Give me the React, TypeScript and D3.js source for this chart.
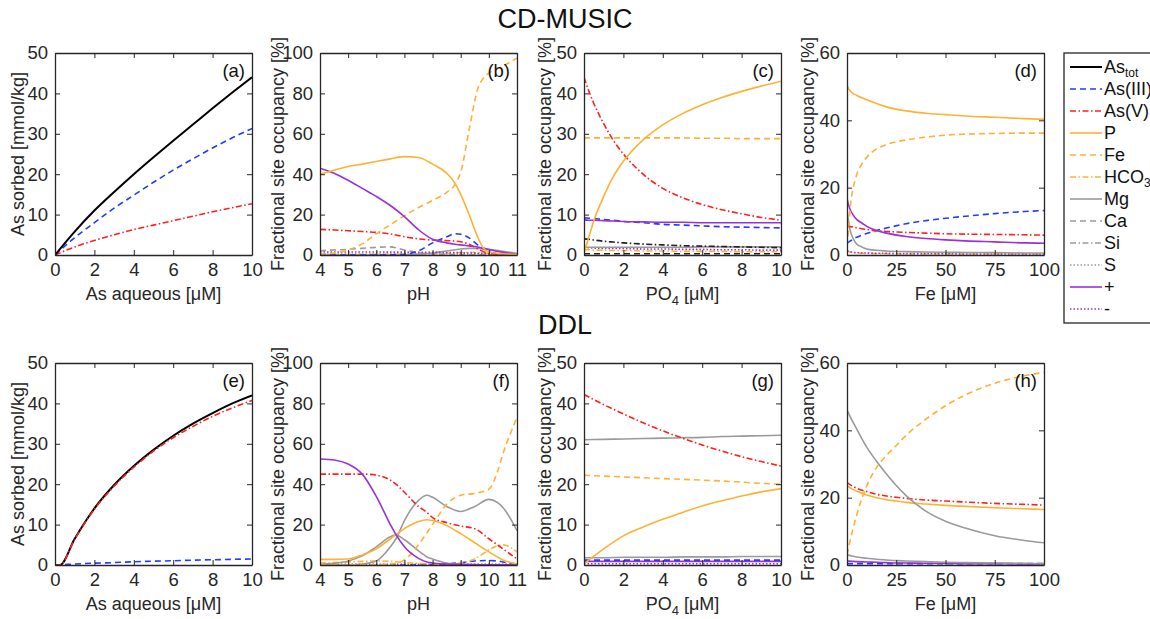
import { useEffect, useRef } from "react";
import * as d3 from "d3";

// ---- panel (a) / (e): As sorbed vs As aqueous
const aX = [0, 1, 2, 3, 4, 5, 6, 7, 8, 9, 10];
const aAsTot = [0, 5.8, 11, 15.6, 20, 24.2, 28.3, 32.3, 36.3, 40.2, 44];
const aAsIII = [0, 4.3, 8, 11.6, 14.8, 18, 21, 23.8, 26.5, 29, 31.3];
const aAsV = [0, 2, 3.6, 5, 6.3, 7.4, 8.5, 9.6, 10.7, 11.7, 12.7];

const eX = [0, 0.25, 1, 2, 3, 4, 5, 6, 7, 8, 9, 10];
const eAsTot = [0, 0, 6.5, 14, 19.8, 24.5, 28.5, 32, 35, 37.6, 40, 42];
const eAsV = [0, 0, 6.4, 13.8, 19.5, 24.2, 28.2, 31.5, 34.3, 36.8, 38.9, 40.7];
const eAsIII = [0, 0.05, 0.25, 0.45, 0.6, 0.8, 0.95, 1.05, 1.2, 1.3, 1.4, 1.5];

// ---- panel (b): CD-MUSIC vs pH
const bX = [4, 4.5, 5, 5.5, 6, 6.5, 7, 7.5, 8, 8.5, 8.8, 9, 9.3, 9.6, 9.8, 10, 10.5, 11];
const bP = [40, 42, 43.8, 45, 46.3, 47.6, 48.7, 48.3, 45, 40.5, 35.5, 30, 20, 9, 3.5, 1.5, 0.6, 0.3];
const bFe = [0.5, 1, 2.5, 5.5, 10.5, 15, 19.5, 23.5, 27, 31, 35, 41, 62, 82, 87.5, 90, 93.5, 97.5];
const bPlus = [43, 40.5, 37, 33, 29, 24.5, 19, 12.5, 7.8, 6, 5.3, 5, 4.5, 4, 3.4, 2.7, 1.3, 0.3];
const bAsV = [12.7, 12.4, 12, 11.6, 11.2, 10.4, 9, 8, 7.4, 7.1, 6.9, 6.6, 5.3, 3, 1.7, 0.8, 0.2, 0.1];
const bAsIII = [0, 0, 0, 0, 0, 0.1, 0.4, 2, 6, 9, 10.5, 10.3, 8.5, 5, 3, 1.6, 0.5, 0.2];
const bCa = [2.1, 2.5, 2.8, 3.3, 3.8, 4, 2.5, 1.2, 0.5, 0.3, 0.2, 0.2, 0.1, 0.1, 0.1, 0.1, 0.1, 0.1];
const bMg = [0, 0, 0, 0, 0, 0, 0.1, 0.4, 1, 2, 2.6, 3, 3.3, 3.3, 3.1, 2.8, 1.8, 0.8];
const bMinus = [1.5, 1.5, 1.5, 1.5, 1.5, 1.4, 1.4, 1.3, 1.3, 1.2, 1.2, 1.1, 1, 0.9, 0.8, 0.7, 0.5, 0.3];
const bHCO3 = [0.2, 0.2, 0.2, 0.3, 0.3, 0.3, 0.4, 0.5, 0.6, 0.8, 1, 1.2, 1.3, 1.2, 1, 0.8, 0.5, 0.3];
const bS = [0.5, 0.5, 0.5, 0.5, 0.5, 0.5, 0.5, 0.5, 0.5, 0.5, 0.5, 0.5, 0.4, 0.4, 0.4, 0.3, 0.3, 0.2];

// ---- panel (c): CD-MUSIC vs PO4
const cX = [0, 0.25, 0.5, 1, 1.5, 2, 3, 4, 5, 6, 7, 8, 9, 10];
const cAsV = [44, 40.5, 37.5, 32.5, 28.3, 25, 20, 16.5, 14.2, 12.5, 11.2, 10.2, 9.3, 8.6];
const cP = [0.5, 4.5, 8.5, 14.5, 19.5, 23.2, 28.5, 32.2, 35, 37.2, 39, 40.5, 41.8, 43];
const cFe = [29, 29, 29, 29, 29, 29, 29, 29, 29, 28.9, 28.9, 28.8, 28.8, 28.8];
const cPlus = [8.7, 8.6, 8.6, 8.5, 8.4, 8.3, 8.2, 8.1, 8.1, 8, 8, 8, 8, 8];
const cAsIII = [9.2, 9.1, 9, 8.8, 8.6, 8.3, 8, 7.6, 7.4, 7.2, 7, 6.9, 6.8, 6.7];
const cBlkDD = [4, 3.9, 3.7, 3.4, 3.2, 3, 2.7, 2.5, 2.3, 2.2, 2.1, 2, 1.9, 1.8];
const cMg = [1.9, 1.9, 1.9, 1.9, 1.9, 1.9, 1.9, 1.9, 1.9, 2, 2, 2, 2, 2];
const cMinus = [1.8, 1.8, 1.7, 1.7, 1.6, 1.6, 1.5, 1.5, 1.4, 1.4, 1.3, 1.3, 1.2, 1.2];
const cHCO3 = [1.3, 1.3, 1.2, 1.2, 1.1, 1.1, 1, 1, 0.9, 0.9, 0.9, 0.8, 0.8, 0.8];
const cBlkD = [0.3, 0.3, 0.3, 0.3, 0.3, 0.3, 0.3, 0.3, 0.3, 0.3, 0.3, 0.3, 0.3, 0.3];

// ---- panel (d): CD-MUSIC vs Fe
const dX = [0, 0.5, 1, 2, 3, 5, 7.5, 10, 15, 20, 30, 40, 50, 60, 75, 90, 100];
const dP = [50.5, 49.8, 49.2, 48.5, 48, 47.4, 46.7, 46.1, 45, 44, 42.8, 42.1, 41.7, 41.3, 40.9, 40.5, 40.3];
const dFe = [2.5, 6, 9.5, 16, 19.5, 24, 27, 29, 31.5, 32.8, 34.2, 35, 35.6, 35.9, 36.1, 36.2, 36.2];
const dPlus = [17, 15.5, 14.5, 13, 12, 10.5, 9.5, 8.5, 7.3, 6.5, 5.5, 4.9, 4.5, 4.2, 3.9, 3.6, 3.5];
const dAsV = [8.7, 8.6, 8.5, 8.4, 8.3, 8.1, 7.8, 7.6, 7.2, 7, 6.7, 6.5, 6.3, 6.2, 6.1, 6, 5.9];
const dAsIII = [3.5, 3.7, 3.9, 4.3, 4.7, 5.3, 5.9, 6.4, 7.3, 8, 9.3, 10.2, 10.9, 11.5, 12.3, 12.9, 13.2];
const dMg = [14, 11, 9, 6.5, 5, 3.2, 2.4, 1.8, 1.4, 1.2, 1, 0.9, 0.8, 0.75, 0.7, 0.6, 0.6];
const dMinus = [1, 1, 0.9, 0.9, 0.8, 0.7, 0.6, 0.6, 0.5, 0.5, 0.4, 0.4, 0.4, 0.3, 0.3, 0.3, 0.3];
const dHCO3 = [1.5, 1.2, 1, 0.8, 0.7, 0.6, 0.5, 0.5, 0.4, 0.4, 0.3, 0.3, 0.3, 0.3, 0.3, 0.3, 0.3];

// ---- panel (f): DDL vs pH
const fX = [4, 4.5, 5, 5.5, 6, 6.5, 6.7, 7, 7.5, 7.8, 8, 8.5, 9, 9.5, 10, 10.3, 10.5, 11];
const fPlus = [52.5, 52, 50, 45, 34, 20, 15, 9, 3.3, 1.5, 1, 0.5, 0.3, 0.2, 0.1, 0.1, 0.1, 0];
const fAsV = [45, 45, 45, 45, 44.5, 42, 40, 36, 29, 26, 23.5, 21, 19.3, 18, 13, 10, 8, 3];
const fMgA = [0.3, 0.8, 2, 4.5, 9, 14, 14.8, 12.5, 7, 4, 3, 1, 0.3, 0.1, 0, 0, 0, 0];
const fMgB = [0, 0, 0, 0.5, 2, 9, 13, 22, 32, 34.5, 33.5, 29, 26.5, 29, 32.5, 31, 28.5, 17];
const fP = [2.8, 2.8, 3, 5, 8, 13, 15, 18, 21.5, 22.4, 22, 19.5, 15.5, 11, 6.5, 4, 2.5, 0.5];
const fFe = [0, 0, 0, 0.1, 0.2, 0.5, 0.8, 2.5, 10, 16, 20, 30, 34.5, 35.5, 37.5, 46, 55, 73];
const fHCO3 = [1, 1.2, 1.5, 1.8, 2, 1.8, 1.6, 1.2, 0.8, 0.6, 0.5, 0.5, 1, 3, 7.5, 9.5, 10, 6.5];
const fAsIII = [0, 0, 0, 0, 0, 0, 0, 0, 0, 0.1, 0.2, 0.5, 1.2, 2, 2.2, 2, 1.5, 0.5];
const fMinus = [0.3, 0.3, 0.3, 0.3, 0.3, 0.3, 0.3, 0.3, 0.3, 0.3, 0.3, 0.3, 0.3, 0.3, 0.3, 0.3, 0.3, 0.3];

// ---- panel (g): DDL vs PO4
const gX = [0, 1, 2, 3, 4, 5, 6, 7, 8, 9, 10];
const gAsV = [42.2, 39.7, 37.4, 35.2, 33.2, 31.4, 29.7, 28.2, 26.8, 25.6, 24.5];
const gMg = [31, 31.1, 31.2, 31.3, 31.4, 31.5, 31.6, 31.8, 31.9, 32, 32.1];
const gFe = [22.2, 22, 21.8, 21.6, 21.4, 21.2, 21, 20.8, 20.5, 20.2, 20];
const gP = [0.3, 4, 7.2, 9.4, 11.3, 13, 14.6, 15.9, 17.1, 18.1, 18.9];
const gMg2 = [1.8, 1.8, 1.9, 1.9, 1.9, 2, 2, 2, 2.1, 2.1, 2.1];
const gAsIII = [1.2, 1.2, 1.2, 1.2, 1.2, 1.2, 1.2, 1.2, 1.2, 1.2, 1.2];
const gPlus = [0.9, 0.9, 0.9, 0.9, 0.9, 0.9, 0.9, 0.9, 0.9, 0.9, 0.9];
const gMinus = [0.3, 0.3, 0.3, 0.3, 0.3, 0.3, 0.3, 0.3, 0.3, 0.3, 0.3];

// ---- panel (h): DDL vs Fe
const hX = [0, 2.5, 5, 10, 15, 20, 25, 30, 40, 50, 60, 75, 90, 100];
const hFe = [3, 9.5, 15, 23.5, 29, 32.5, 35.5, 38.5, 43.3, 47.3, 50.5, 54, 56.2, 57.2];
const hMg = [46, 43, 40.3, 35, 30.8, 27, 23.6, 20.6, 16, 13, 11, 8.7, 7.3, 6.6];
const hAsV = [24.5, 23.5, 22.8, 21.8, 21, 20.5, 20.1, 19.8, 19.3, 19, 18.7, 18.3, 18, 17.8];
const hP = [23.5, 22.6, 21.9, 20.8, 20, 19.4, 19, 18.6, 18.1, 17.7, 17.4, 17, 16.7, 16.5];
const hMg2 = [3, 2.7, 2.4, 2, 1.7, 1.5, 1.3, 1.2, 1, 0.8, 0.7, 0.6, 0.5, 0.4];
const hPlus = [1.2, 1.1, 1, 0.9, 0.8, 0.7, 0.6, 0.6, 0.5, 0.5, 0.4, 0.4, 0.3, 0.3];
const hAsIII = [0.4, 0.4, 0.4, 0.4, 0.4, 0.4, 0.4, 0.4, 0.4, 0.4, 0.4, 0.4, 0.4, 0.4];

// legend entries (label, sub)
const legendKeys = ["AsTot", "AsIII", "AsV", "P", "Fe", "HCO3", "Mg", "Ca", "Si", "S", "Plus", "Minus"];
const legendText: Record<string, [string, string]> = {
  AsTot: ["As", "tot"], AsIII: ["As(III)", ""], AsV: ["As(V)", ""], P: ["P", ""], Fe: ["Fe", ""],
  HCO3: ["HCO", "3"], Mg: ["Mg", ""], Ca: ["Ca", ""], Si: ["Si", ""], S: ["S", ""], Plus: ["+", ""], Minus: ["-", ""],
};

const ORANGE = "#ffb133";
const GRAY = "#9a9a9a";
const PURPLE = "#9a30dd";
const DASH = "6,4";
const DASHDOT = "6,2.5,1.5,2.5";
const DOT = "1.5,2";
const STY: Record<string, { c: string; d: string | null; w?: number }> = {
  AsTot: { c: "#000000", d: null, w: 2 },
  AsIII: { c: "#1f3cff", d: DASH },
  AsV: { c: "#ff1f1f", d: DASHDOT },
  P: { c: ORANGE, d: null },
  Fe: { c: ORANGE, d: DASH },
  HCO3: { c: ORANGE, d: DASHDOT },
  Mg: { c: GRAY, d: null },
  Ca: { c: GRAY, d: DASH },
  Si: { c: GRAY, d: DASHDOT },
  S: { c: GRAY, d: DOT },
  Plus: { c: PURPLE, d: null },
  Minus: { c: PURPLE, d: DOT },
  BlkDD: { c: "#222", d: DASHDOT },
  BlkD: { c: "#222", d: DASH },
};

const FONT = "'Liberation Sans', Arial, sans-serif";
const TXT = "#262626";
const OCC = "Fractional site occupancy [%]";
const TICK_FS = 18.5;
const LAB_FS = 18;

export default function App() {
  const ref = useRef<SVGSVGElement>(null);

  useEffect(() => {
    const svg = d3.select(ref.current);
    svg.selectAll("*").remove();

    const lefts = [55, 320, 584, 847];
    const tops = [53, 363];
    const pw = 197, ph = 202;

    const panels = [
      { r: 0, c: 0, tag: "(a)", xd: [0, 10], xt: d3.range(0, 11, 2), yd: [0, 50], yt: d3.range(0, 51, 10),
        xl: "aq", yl: "As sorbed [mmol/kg]", yo: -31, x: aX,
        s: [["AsIII", aAsIII], ["AsV", aAsV], ["AsTot", aAsTot]] },
      { r: 0, c: 1, tag: "(b)", xd: [4, 11], xt: d3.range(4, 12), yd: [0, 100], yt: d3.range(0, 101, 20),
        xl: "pH", yl: OCC, yo: -36, x: bX,
        s: [["S", bS], ["HCO3", bHCO3], ["Mg", bMg], ["Ca", bCa], ["Minus", bMinus], ["AsIII", bAsIII], ["AsV", bAsV], ["Fe", bFe], ["Plus", bPlus], ["P", bP]] },
      { r: 0, c: 2, tag: "(c)", xd: [0, 10], xt: d3.range(0, 11, 2), yd: [0, 50], yt: d3.range(0, 51, 10),
        xl: "po4", yl: OCC, yo: -33, x: cX,
        s: [["BlkD", cBlkD], ["HCO3", cHCO3], ["Minus", cMinus], ["Mg", cMg], ["BlkDD", cBlkDD], ["AsIII", cAsIII], ["Plus", cPlus], ["Fe", cFe], ["AsV", cAsV], ["P", cP]] },
      { r: 0, c: 3, tag: "(d)", xd: [0, 100], xt: d3.range(0, 101, 25), yd: [0, 60], yt: d3.range(0, 61, 20),
        xl: "fe", yl: OCC, yo: -33, x: dX,
        s: [["HCO3", dHCO3], ["Minus", dMinus], ["Mg", dMg], ["AsIII", dAsIII], ["AsV", dAsV], ["Plus", dPlus], ["Fe", dFe], ["P", dP]] },
      { r: 1, c: 0, tag: "(e)", xd: [0, 10], xt: d3.range(0, 11, 2), yd: [0, 50], yt: d3.range(0, 51, 10),
        xl: "aq", yl: "As sorbed [mmol/kg]", yo: -31, x: eX,
        s: [["AsIII", eAsIII], ["AsTot", eAsTot], ["AsV", eAsV]] },
      { r: 1, c: 1, tag: "(f)", xd: [4, 11], xt: d3.range(4, 12), yd: [0, 100], yt: d3.range(0, 101, 20),
        xl: "pH", yl: OCC, yo: -36, x: fX,
        s: [["Minus", fMinus], ["AsIII", fAsIII], ["HCO3", fHCO3], ["Mg", fMgA], ["Mg", fMgB], ["Fe", fFe], ["P", fP], ["AsV", fAsV], ["Plus", fPlus]] },
      { r: 1, c: 2, tag: "(g)", xd: [0, 10], xt: d3.range(0, 11, 2), yd: [0, 50], yt: d3.range(0, 51, 10),
        xl: "po4", yl: OCC, yo: -33, x: gX,
        s: [["Minus", gMinus], ["Plus", gPlus], ["AsIII", gAsIII], ["Mg", gMg2], ["Mg", gMg], ["Fe", gFe], ["P", gP], ["AsV", gAsV]] },
      { r: 1, c: 3, tag: "(h)", xd: [0, 100], xt: d3.range(0, 101, 25), yd: [0, 60], yt: d3.range(0, 61, 20),
        xl: "fe", yl: OCC, yo: -33, x: hX,
        s: [["AsIII", hAsIII], ["Plus", hPlus], ["Mg", hMg2], ["P", hP], ["AsV", hAsV], ["Mg", hMg], ["Fe", hFe]] },
    ];

    panels.forEach((p: any, i) => {
      const L = lefts[p.c], T = tops[p.r];
      const x = d3.scaleLinear().domain(p.xd).range([0, pw]);
      const y = d3.scaleLinear().domain(p.yd).range([ph, 0]);
      const g = svg.append("g").attr("transform", `translate(${L},${T})`);

      g.append("clipPath").attr("id", `clip${i}`)
        .append("rect").attr("x", 0).attr("y", -2).attr("width", pw).attr("height", ph + 2);

      const lines = g.append("g").attr("clip-path", `url(#clip${i})`);
      p.s.forEach(([key, vals]: [string, number[]]) => {
        const st = STY[key];
        const line = d3.line<number>()
          .x((_, j) => x(p.x[j]))
          .y(d => y(d))
          .curve(d3.curveMonotoneX);
        lines.append("path").datum(vals)
          .attr("fill", "none").attr("stroke", st.c)
          .attr("stroke-width", st.w || 1.6)
          .attr("stroke-dasharray", st.d)
          .attr("d", line);
      });

      // box + inward ticks on all four sides
      const axc = "#262626";
      const fmt = (d: any) => String(d);
      const bottom = g.append("g").attr("transform", `translate(0,${ph})`)
        .call(d3.axisBottom(x).tickValues(p.xt).tickFormat(fmt).tickSizeInner(-5).tickSizeOuter(0).tickPadding(8));
      const top = g.append("g").call(d3.axisTop(x).tickValues(p.xt).tickSizeInner(-5).tickSizeOuter(0).tickFormat(() => ""));
      const left = g.append("g")
        .call(d3.axisLeft(y).tickValues(p.yt).tickFormat(fmt).tickSizeInner(-5).tickSizeOuter(0).tickPadding(7));
      const right = g.append("g").attr("transform", `translate(${pw},0)`)
        .call(d3.axisRight(y).tickValues(p.yt).tickSizeInner(-5).tickSizeOuter(0).tickFormat(() => ""));
      [bottom, top, left, right].forEach(ax => {
        ax.select(".domain").attr("stroke", axc).attr("stroke-width", 1.3);
        ax.selectAll("line").attr("stroke", axc).attr("stroke-width", 1);
        ax.selectAll("text").attr("fill", TXT).attr("font-size", TICK_FS).attr("font-family", FONT);
      });

      // panel tag
      g.append("text").attr("x", pw - 7).attr("y", 24).attr("text-anchor", "end")
        .attr("font-family", FONT).attr("font-size", TICK_FS).attr("fill", "#111").text(p.tag);

      // y label
      g.append("text").attr("transform", `translate(${p.yo},${ph / 2}) rotate(-90)`)
        .attr("text-anchor", "middle").attr("font-family", FONT).attr("font-size", LAB_FS).attr("fill", TXT)
        .text(p.yl);

      // x label
      const xt = g.append("text").attr("x", pw / 2).attr("y", ph + 45).attr("text-anchor", "middle")
        .attr("font-family", FONT).attr("font-size", LAB_FS).attr("fill", TXT);
      if (p.xl === "aq") xt.text("As aqueous [\u03bcM]");
      else if (p.xl === "pH") xt.text("pH");
      else if (p.xl === "po4") {
        xt.append("tspan").text("PO");
        xt.append("tspan").attr("font-size", 13).attr("dy", 5).text("4");
        xt.append("tspan").attr("dy", -5).text(" [\u03bcM]");
      } else xt.text("Fe [\u03bcM]");
    });

    // titles
    svg.append("text").attr("x", 565).attr("y", 28).attr("text-anchor", "middle")
      .attr("font-family", FONT).attr("font-size", 27).attr("fill", "#111").text("CD-MUSIC");
    svg.append("text").attr("x", 565).attr("y", 334).attr("text-anchor", "middle")
      .attr("font-family", FONT).attr("font-size", 27).attr("fill", "#111").text("DDL");

    // legend (box runs past the right edge, as in the original figure)
    const lg = svg.append("g").attr("transform", "translate(1064,53)");
    lg.append("rect").attr("width", 110).attr("height", 270)
      .attr("fill", "#fff").attr("stroke", "#262626").attr("stroke-width", 1.3);
    legendKeys.forEach((k, i) => {
      const yy = 14 + i * 22;
      const st = STY[k];
      lg.append("line").attr("x1", 6).attr("x2", 38).attr("y1", yy).attr("y2", yy)
        .attr("stroke", st.c).attr("stroke-width", st.w || 1.6).attr("stroke-dasharray", st.d);
      const t = lg.append("text").attr("x", 40).attr("y", yy + 6)
        .attr("font-family", FONT).attr("font-size", LAB_FS).attr("fill", "#111");
      const [main, sub] = legendText[k];
      t.append("tspan").text(main);
      if (sub) t.append("tspan").attr("font-size", 12).attr("dy", 4).text(sub);
    });
  }, []);

  return (
    <svg ref={ref} width={1150} height={619}
      style={{ position: "fixed", left: 0, top: 0, background: "#fff" }} />
  );
}
